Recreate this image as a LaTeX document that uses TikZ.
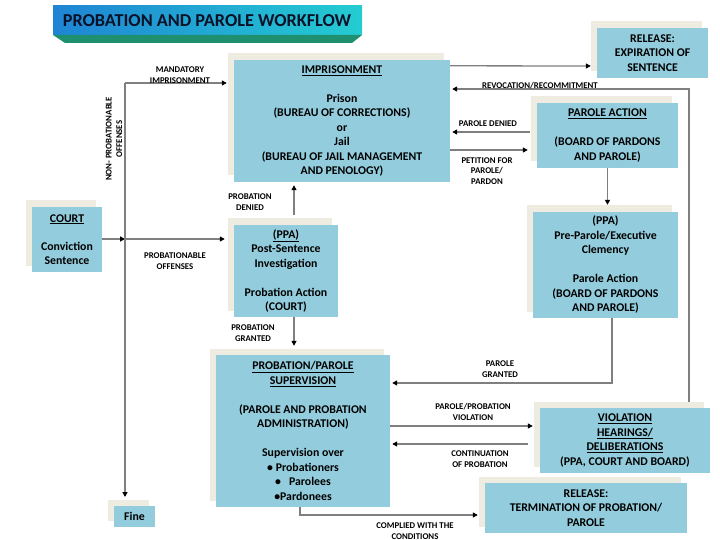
\documentclass[tikz,border=0pt]{standalone}
\usepackage{fontspec}
\setmainfont{Carlito}
\usetikzlibrary{shadows,arrows.meta,calc}
\definecolor{boxblue}{HTML}{93CDDD}
\definecolor{shadc}{HTML}{EEECE1}
\definecolor{lnc}{HTML}{7F7F7F}
\definecolor{tleft}{HTML}{1F84D4}
\definecolor{tright}{HTML}{24CCD2}
\definecolor{tgreen}{HTML}{1E9070}
\definecolor{ttext}{HTML}{0A1228}
\begin{document}
\begin{tikzpicture}[x=1pt,y=-1pt,
 box/.style={fill=boxblue, align=center, inner sep=0pt,
   font=\fontsize{11.8}{14.5}\selectfont\bfseries,
   general shadow={fill=shadc, shadow xshift=-6.5pt, shadow yshift=6.5pt}},
 lbl/.style={align=center, font=\fontsize{8.8}{10.5}\selectfont\bfseries, inner sep=0pt},
 arr/.style={draw=lnc, line width=1.3pt, -{Triangle[length=5pt,width=5pt,color=black]}},
 ln/.style={draw=lnc, line width=1.3pt},
]
\useasboundingbox (0,0) rectangle (720,540);

% title
\shade[left color=tleft, right color=tright] (53,6) rectangle (362,35);
\fill[tgreen] (53,35) -- (362,35) -- (352,43) -- (65,43) -- cycle;
\node[font=\fontsize{18.2}{21}\selectfont\bfseries, text=ttext] (title) at (207,21) {PROBATION AND PAROLE WORKFLOW};

% boxes
\node[box, minimum width=216, minimum height=122] (imp) at (342,121)
 {\underline{IMPRISONMENT}\\[14.5pt]Prison\\(BUREAU OF CORRECTIONS)\\or\\Jail\\(BUREAU OF JAIL MANAGEMENT\\AND PENOLOGY)};
\node[box, minimum width=111, minimum height=50] (relexp) at (652.5,53)
 {RELEASE:\\EXPIRATION OF\\SENTENCE};
\node[box, minimum width=141, minimum height=65] (parole) at (607.5,135.5)
 {\underline{PAROLE ACTION}\\[14.5pt](BOARD OF PARDONS\\AND PAROLE)};
\node[box, minimum width=70, minimum height=65] (court) at (67,239.5)
 {\underline{COURT}\\[13.5pt]Conviction\\Sentence};
\node[box, minimum width=104, minimum height=92] (ppa) at (286,271)
 {\underline{(PPA)}\\Post-Sentence\\Investigation\\[14.5pt]Probation Action\\(COURT)};
\node[box, minimum width=145, minimum height=106] (pre) at (605.5,265)
 {(PPA)\\Pre-Parole/Executive\\Clemency\\[14.5pt]Parole Action\\(BOARD OF PARDONS\\AND PAROLE)};
\node[box, minimum width=174, minimum height=152] (sup) at (303,431)
 {\underline{PROBATION/PAROLE}\\\underline{SUPERVISION}\\[14.5pt](PAROLE AND PROBATION\\ADMINISTRATION)\\[14.5pt]Supervision over\\\textbullet\ Probationers\\\textbullet\ \ \ Parolees\\\textbullet Pardonees};
\node[box, minimum width=170, minimum height=65] (viol) at (625,440.5)
 {\underline{VIOLATION}\\\underline{HEARINGS/}\\\underline{DELIBERATIONS}\\(PPA, COURT AND BOARD)};
\node[box, minimum width=202, minimum height=50] (relterm) at (586,508)
 {RELEASE:\\TERMINATION OF PROBATION/\\PAROLE};
\node[box, minimum width=41, minimum height=21] (fine) at (134.5,516.5) {Fine};

% junctions
\coordinate (j1) at (125,83);
\coordinate (j2) at (125,239);
\coordinate (j3) at (125,497);
\coordinate (rc) at (689,89);
\coordinate (pd) at (530,132);
\coordinate (pp) at (450,150);
\coordinate (pg) at (612,383);
\coordinate (pv) at (390,426);
\coordinate (cp) at (528,444);
\coordinate (cw) at (300,515);

% connectors
\draw[arr] (court.east |- j2) -- (j2);
\draw[arr] (j1) -- (j3);
\draw[arr] (j2) -- ([xshift=-9pt]ppa.west |- j2);
\draw[arr] (j1) -- ([xshift=-7pt]imp.west |- j1);
\draw[arr] ([xshift=8pt,yshift=10pt]ppa.north) -- ([xshift=-48pt,yshift=-3pt]imp.south);
\draw[arr] ([xshift=8pt]ppa.south) -- ([xshift=-9pt,yshift=9pt]sup.north);
\draw[arr] ([yshift=-6pt]imp.north east) -- ([xshift=-6pt,yshift=-13pt]relexp.west);
\draw[arr] ([xshift=64pt,yshift=6pt]viol.north) |- ([xshift=2pt]imp.east |- rc);
\draw[arr] (pd) -- ([xshift=2pt]imp.east |- pd);
\draw[arr] (imp.east |- pp) -- ([xshift=-9pt]parole.west |- pp);
\draw[arr] (parole.south) -- ([yshift=7pt]parole.south |- pre.north);
\draw[arr] (pre.south -| pg) -- (pg) -- ([xshift=2pt]sup.east |- pg);
\draw[arr] (sup.east |- pv) -- ([xshift=-7pt]viol.west |- pv);
\draw[arr] (cp) -- ([xshift=2pt]sup.east |- cp);
\draw[arr] ([xshift=-3pt]sup.south) -- (cw) -- ([xshift=-7pt]relterm.west |- cw);

% labels
\node[lbl] (l1) at (180,75) {MANDATORY\\IMPRISONMENT};
\node[lbl, rotate=90] (l2) at (114,139) {NON- PROBATIONABLE\\OFFENSES};
\node[lbl] (l3) at (175,261) {PROBATIONABLE\\OFFENSES};
\node[lbl] (l4) at (250,202) {PROBATION\\DENIED};
\node[lbl] (l5) at (253,333) {PROBATION\\GRANTED};
\node[lbl] (l6) at (540,86) {REVOCATION/RECOMMITMENT};
\node[lbl] (l7) at (488,124) {PAROLE DENIED};
\node[lbl] (l8) at (487,171) {PETITION FOR\\PAROLE/\\PARDON};
\node[lbl] (l9) at (500,369) {PAROLE\\GRANTED};
\node[lbl] (l10) at (473,412) {PAROLE/PROBATION\\VIOLATION};
\node[lbl] (l11) at (480,459) {CONTINUATION\\OF PROBATION};
\node[lbl] (l12) at (415,531) {COMPLIED WITH THE\\CONDITIONS};
\end{tikzpicture}
\end{document}
